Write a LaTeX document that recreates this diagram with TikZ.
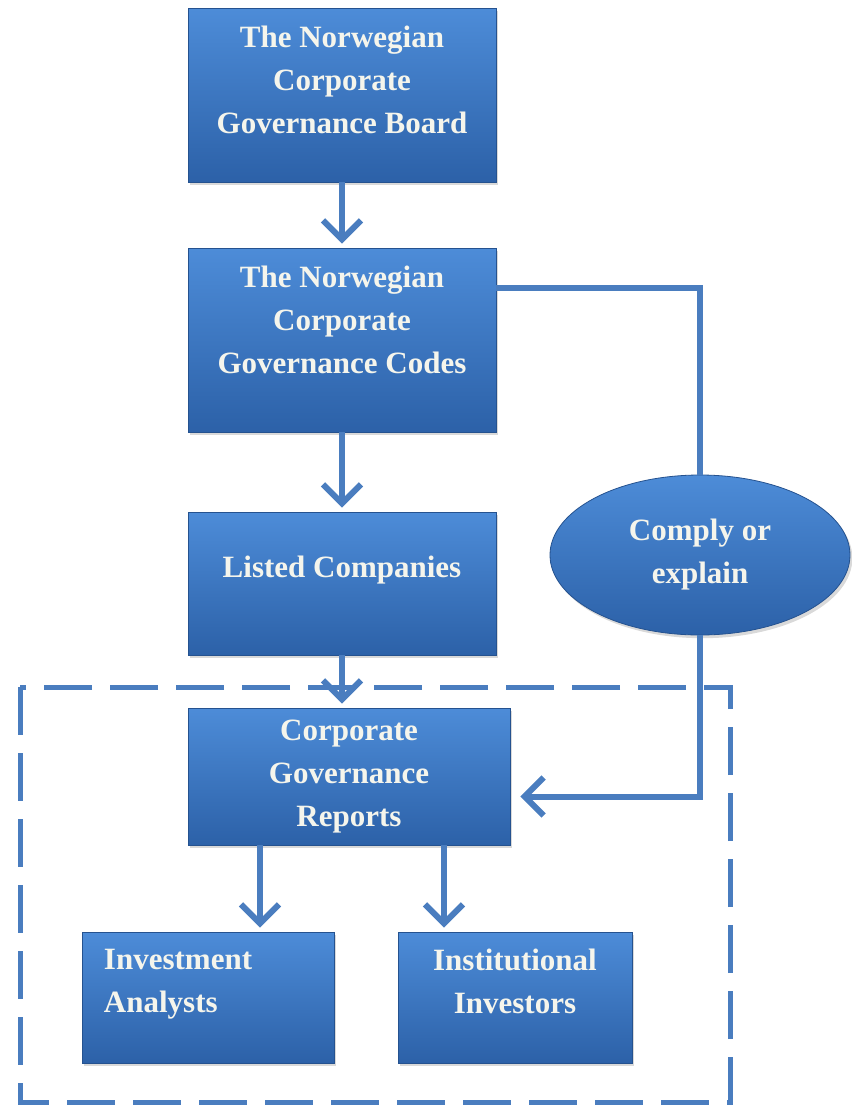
\documentclass[tikz,border=0pt]{standalone}
\usepackage{fontspec}
\setmainfont{Liberation Serif}
\usetikzlibrary{positioning, arrows.meta, shapes.geometric, shadows}
\definecolor{govtop}{HTML}{4D8CD8}
\definecolor{govbottom}{HTML}{2C61A8}
\definecolor{govline}{HTML}{4A7DBF}
\definecolor{govtext}{HTML}{F5F5EC}

\begin{document}
\begin{tikzpicture}[x=0.5pt, y=-0.5pt,
        box/.style={rectangle, top color=govtop, bottom color=govbottom, draw=govbottom!85!black, line width=0.4pt, text=govtext, font=\fontsize{15.5pt}{21.5pt}\selectfont\bfseries, align=center, inner sep=0pt, drop shadow={shadow xshift=1.2pt, shadow yshift=-1.6pt, opacity=0.3}},
        oval/.style={box, ellipse},
        link/.style={line width=3pt, govline},
        arr/.style={link, -{Straight Barb[length=9.5pt, width=19pt]}, shorten >=2pt}]
      \useasboundingbox (0,0) rectangle (852,1105);

      % Reporting frame
      \draw[govline, line width=2.5pt, dash pattern=on 24pt off 9pt] (20,687) rectangle (730,1102);

      % Flow
      \node[box, minimum width=154pt, minimum height=87pt] (board) at (342,95) {The Norwegian\\Corporate\\Governance Board\\[-6pt]\mbox{}};
      \node[box, minimum width=154pt, minimum height=92pt] (codes) at (342,340) {The Norwegian\\Corporate\\Governance Codes\\[-1pt]\mbox{}};
      \node[box, minimum width=154pt, minimum height=71.5pt] (listed) at (342,583.5) {Listed Companies\\[-5pt]\mbox{}};
      \node[box, minimum width=161pt, minimum height=68.5pt] (reports) at (349,776.5) {Corporate\\Governance\\Reports};
      \node[box, minimum width=126pt, minimum height=65.5pt, align=left, text width=104pt] (analysts) at (208,997.5) {Investment\\Analysts\\[-5pt]\mbox{}};
      \node[box, minimum width=117pt, minimum height=65.5pt] (investors) at (515,997.5) {Institutional\\Investors\\[-5pt]\mbox{}};
      \node[oval, minimum width=150pt, minimum height=80pt] (comply) at (700,555) {Comply or\\explain};

      \draw[arr] (board) -- (codes);
      \draw[arr] (codes) -- (listed);
      \draw[arr] (listed.south) -- (listed.south |- reports.north);
      \draw[link] ([yshift=26pt]codes.east) -| (comply.north);
      \draw[arr, shorten >=5pt] (comply.south) |- ([yshift=-10pt]reports.east);
      \draw[arr] ([xshift=-44.5pt]reports.south) -- ([xshift=-44.5pt]reports.south |- analysts.north);
      \draw[arr] ([xshift=47.5pt]reports.south) -- ([xshift=47.5pt]reports.south |- investors.north);
    \end{tikzpicture}
\end{document}
